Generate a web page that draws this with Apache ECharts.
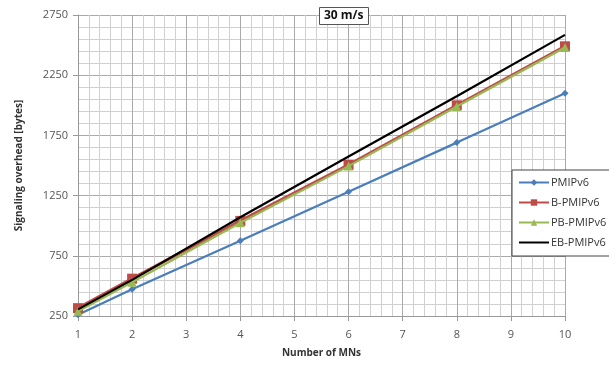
<!DOCTYPE html>
<html>
<head>
<meta charset="utf-8">
<script src="https://cdn.jsdelivr.net/npm/echarts@6/dist/echarts.min.js"></script>
<style>
  html, body { margin: 0; padding: 0; background: #fff; }
  #chart { width: 609px; height: 369px; }
</style>
</head>
<body>
<div id="chart"></div>
<script>
// Number of mobile nodes (x) and signaling overhead in bytes (y)
const mnCounts = [1, 2, 4, 6, 8, 10];
const pmipv6   = [260, 472, 875, 1282, 1690, 2100];
const bPmipv6  = [315, 560, 1040, 1505, 2000, 2490];
const pbPmipv6 = [290, 530, 1025, 1495, 1990, 2480];
const ebPmipv6 = [305, 550, 1070, 1575, 2075, 2585];

const seriesNames = ['PMIPv6', 'B-PMIPv6', 'PB-PMIPv6', 'EB-PMIPv6'];
const seriesValues = [pmipv6, bPmipv6, pbPmipv6, ebPmipv6];
const seriesColors = ['#4a7ebb', '#be4b48', '#98b954', '#000000'];
const seriesSymbols = ['diamond', 'rect', 'triangle', 'none'];
const symbolSizes = [7, 10, 9, 0];

const FONT = '"Open Sans", "DejaVu Sans", sans-serif';

const chart = echarts.init(document.getElementById('chart'));

const series = seriesNames.map((name, i) => ({
  name: name,
  type: 'line',
  data: mnCounts.map((x, j) => [x, seriesValues[i][j]]),
  symbol: seriesSymbols[i],
  symbolSize: symbolSizes[i],
  showSymbol: seriesSymbols[i] !== 'none',
  lineStyle: { color: seriesColors[i], width: i === 1 ? 3 : 2.2 },
  itemStyle: { color: seriesColors[i] },
  z: i === 3 ? 5 : 2 + i,
  animation: false
}));

chart.setOption({
  animation: false,
  backgroundColor: '#ffffff',
  title: {
    text: '30 m/s',
    left: 319,
    top: 7,
    padding: [3, 5, 3, 5],
    borderColor: '#555',
    borderWidth: 1,
    backgroundColor: '#fff',
    textStyle: { fontFamily: FONT, fontSize: 12, fontWeight: 'bold', color: '#111' }
  },
  grid: { left: 78, right: 44, top: 15, bottom: 53, containLabel: false },
  xAxis: {
    type: 'value',
    min: 1, max: 10, interval: 1,
    name: 'Number of MNs',
    nameLocation: 'middle',
    nameGap: 32,
    nameTextStyle: { fontFamily: FONT, fontSize: 10, fontWeight: 'bold', color: '#333' },
    axisLine: { lineStyle: { color: '#999' } },
    axisTick: { show: true, length: 5, lineStyle: { color: '#999' } },
    axisLabel: { fontFamily: FONT, fontSize: 11, color: '#555', margin: 13 },
    splitLine: { show: true, lineStyle: { color: '#aaa', width: 1 } },
    minorTick: { show: true, splitNumber: 5, length: 0 },
    minorSplitLine: { show: true, lineStyle: { color: '#d0d0d0', width: 1 } }
  },
  yAxis: {
    type: 'value',
    min: 250, max: 2750, interval: 500,
    name: 'Signaling overhead [bytes]',
    nameLocation: 'middle',
    nameGap: 54,
    nameTextStyle: { fontFamily: FONT, fontSize: 10, fontWeight: 'bold', color: '#333' },
    axisLine: { show: true, lineStyle: { color: '#999' } },
    axisTick: { show: true, length: 5, lineStyle: { color: '#999' } },
    axisLabel: {
      fontFamily: FONT, fontSize: 11, color: '#555', margin: 10,
      formatter: v => String(v)
    },
    splitLine: { show: true, lineStyle: { color: '#aaa', width: 1 } },
    minorTick: { show: true, splitNumber: 5, length: 0 },
    minorSplitLine: { show: true, lineStyle: { color: '#d0d0d0', width: 1 } }
  },
  legend: {
    orient: 'vertical',
    left: 512,
    top: 170,
    padding: [7, 30, 8, 6],
    itemGap: 9,
    itemWidth: 30,
    itemHeight: 8,
    borderColor: '#444',
    borderWidth: 1,
    backgroundColor: '#fff',
    data: seriesNames.map((n, i) => (
      seriesSymbols[i] === 'none' ? { name: n, itemStyle: { opacity: 0 } } : { name: n }
    )),
    textStyle: { fontFamily: FONT, fontSize: 11, color: '#333', padding: [0, 0, 0, -3] }
  },
  series: series
});
</script>
</body>
</html>
